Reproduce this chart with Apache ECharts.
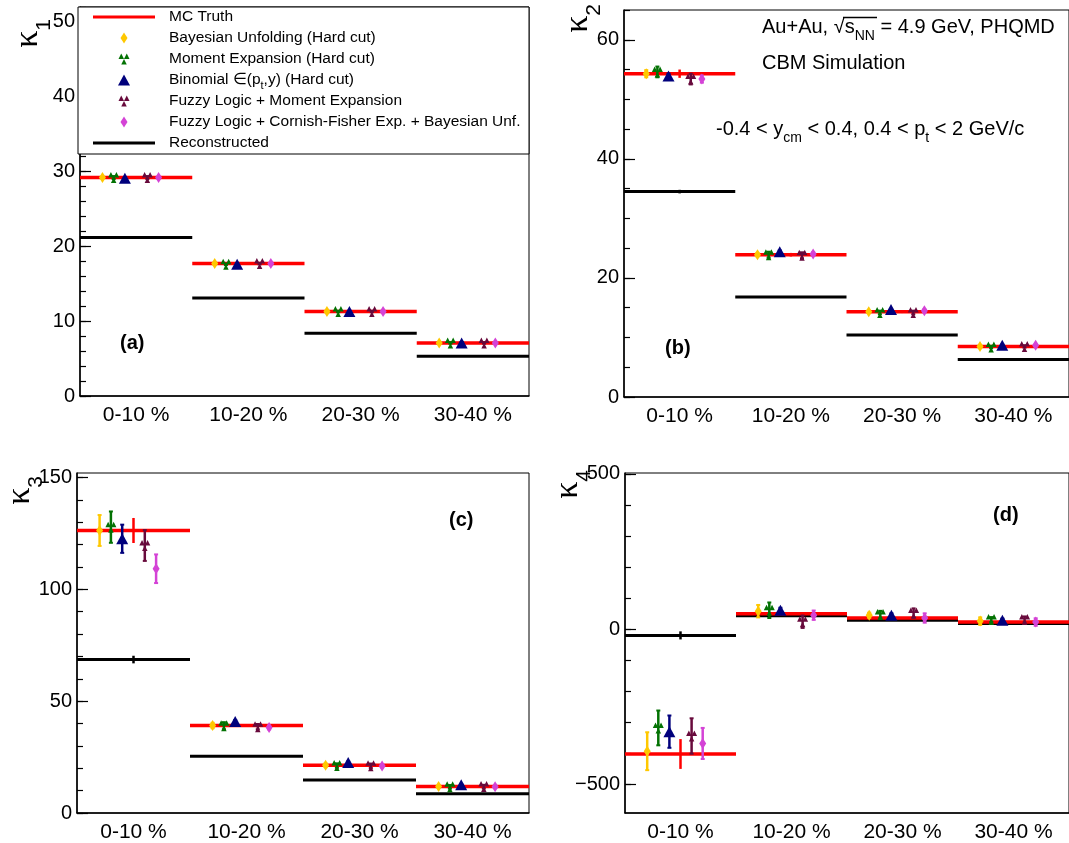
<!DOCTYPE html>
<html>
<head>
<meta charset="utf-8">
<script src="https://cdn.jsdelivr.net/npm/echarts@6/dist/echarts.min.js"></script>
<style>
html, body { margin: 0; padding: 0; background: #fff; }
#chart { width: 1069px; height: 843px; }
</style>
</head>
<body>
<div id="chart"></div>
<script>
// Centrality classes
const categories = ['0-10 %', '10-20 %', '20-30 %', '30-40 %'];

// Cumulant values per centrality class, with their statistical errors
// kappa_1
const k1Truth = [29.2, 17.7, 11.3, 7.1];
const k1TruthErr = [0.05, 0.05, 0.05, 0.05];
const k1Reco = [21.2, 13.1, 8.4, 5.3];
const k1RecoErr = [0.05, 0.05, 0.05, 0.05];
const k1Bayes = [29.2, 17.7, 11.3, 7.1];
const k1BayesErr = [0.1, 0.1, 0.1, 0.1];
const k1Moment = [29.2, 17.6, 11.3, 7.1];
const k1MomentErr = [0.2, 0.1, 0.1, 0.1];
const k1Binom = [29.1, 17.6, 11.3, 7.1];
const k1BinomErr = [0.1, 0.1, 0.1, 0.1];
const k1FuzzyME = [29.2, 17.7, 11.3, 7.1];
const k1FuzzyMEErr = [0.2, 0.1, 0.1, 0.1];
const k1FuzzyCF = [29.2, 17.7, 11.3, 7.1];
const k1FuzzyCFErr = [0.1, 0.1, 0.1, 0.1];

// kappa_2
const k2Truth = [54.3, 23.9, 14.3, 8.5];
const k2TruthErr = [0.7, 0.3, 0.2, 0.1];
const k2Reco = [34.5, 16.8, 10.4, 6.3];
const k2RecoErr = [0.3, 0.1, 0.1, 0.05];
const k2Bayes = [54.3, 23.9, 14.3, 8.5];
const k2BayesErr = [0.6, 0.3, 0.2, 0.1];
const k2Moment = [54.6, 23.9, 14.2, 8.4];
const k2MomentErr = [0.9, 0.5, 0.3, 0.2];
const k2Binom = [53.9, 24.4, 14.7, 8.7];
const k2BinomErr = [0.4, 0.2, 0.1, 0.1];
const k2FuzzyME = [53.4, 23.8, 14.2, 8.5];
const k2FuzzyMEErr = [0.9, 0.5, 0.3, 0.2];
const k2FuzzyCF = [53.4, 24.0, 14.5, 8.7];
const k2FuzzyCFErr = [0.6, 0.3, 0.2, 0.1];

// kappa_3
const k3Truth = [126.3, 39.1, 21.3, 11.8];
const k3TruthErr = [5.6, 0.3, 0.2, 0.1];
const k3Reco = [68.6, 25.4, 14.7, 8.6];
const k3RecoErr = [1.7, 0.2, 0.1, 0.1];
const k3Bayes = [126.3, 39.1, 21.3, 11.8];
const k3BayesErr = [6.9, 1.2, 0.8, 0.5];
const k3Moment = [127.8, 39.0, 21.2, 11.7];
const k3MomentErr = [7.0, 1.6, 1.0, 0.8];
const k3Binom = [122.6, 40.9, 22.6, 12.6];
const k3BinomErr = [6.3, 0.6, 0.4, 0.2];
const k3FuzzyME = [119.6, 38.6, 21.1, 11.8];
const k3FuzzyMEErr = [6.9, 1.2, 1.0, 0.8];
const k3FuzzyCF = [109.2, 38.2, 21.0, 11.7];
const k3FuzzyCFErr = [6.4, 0.8, 0.6, 0.4];

// kappa_4
const k4Truth = [-402, 50, 36, 23];
const k4TruthErr = [48, 4, 3, 2];
const k4Reco = [-20, 43, 29, 18];
const k4RecoErr = [13, 2, 1, 1];
const k4Bayes = [-393, 58, 45, 26];
const k4BayesErr = [61, 20, 8, 12];
const k4Moment = [-318, 61, 47, 31];
const k4MomentErr = [56, 25, 12, 8];
const k4Binom = [-330, 61, 45, 29];
const k4BinomErr = [52, 8, 6, 5];
const k4FuzzyME = [-344, 24, 52, 31];
const k4FuzzyMEErr = [57, 20, 15, 10];
const k4FuzzyCF = [-368, 45, 36, 23];
const k4FuzzyCFErr = [50, 15, 15, 12];

// Axis ticks
const k1Major = [0, 10, 20, 30, 40, 50];
const k2Major = [0, 20, 40, 60];
const k3Major = [0, 50, 100, 150];
const k4Major = [-500, 0, 500];

// ---------------------------------------------------------------
const FONT = '"Liberation Sans", Arial, Helvetica, sans-serif';
const TRI = 'path://M0,6L3,0L6,6ZM6,6L9,0L12,6ZM3,12L6,6L9,12Z';

const methods = [
  { name: 'Bayesian Unfolding (Hard cut)', color: '#ffc800', symbol: 'diamond', size: [7, 11], dx: 0.2 },
  { name: 'Moment Expansion (Hard cut)', color: '#037203', symbol: TRI, size: [11, 11], dx: 0.3 },
  { name: 'Binomial \u2208(pt,y) (Hard cut)', color: '#00007c', symbol: 'triangle', size: [12, 11], dx: 0.4 },
  { name: 'Fuzzy Logic + Moment Expansion', color: '#680a3c', symbol: TRI, size: [11, 11], dx: 0.6 },
  { name: 'Fuzzy Logic + Cornish-Fisher Exp. + Bayesian Unf.', color: '#d443d6', symbol: 'diamond', size: [7, 11], dx: 0.7 }
];

function range(from, to, step) {
  const out = [];
  for (let v = from; v <= to + 1e-9; v += step) out.push(v);
  return out;
}

const panels = [
  { grid: { left: 80, top: 7, width: 449, height: 389 }, min: 0, max: 52, major: k1Major, minor: range(0, 52, 2),
    truth: [k1Truth, k1TruthErr], reco: [k1Reco, k1RecoErr],
    sets: [[k1Bayes, k1BayesErr], [k1Moment, k1MomentErr], [k1Binom, k1BinomErr], [k1FuzzyME, k1FuzzyMEErr], [k1FuzzyCF, k1FuzzyCFErr]] },
  { grid: { left: 624, top: 10, width: 447, height: 387 }, min: 0, max: 65, major: k2Major, minor: range(0, 65, 5),
    truth: [k2Truth, k2TruthErr], reco: [k2Reco, k2RecoErr],
    sets: [[k2Bayes, k2BayesErr], [k2Moment, k2MomentErr], [k2Binom, k2BinomErr], [k2FuzzyME, k2FuzzyMEErr], [k2FuzzyCF, k2FuzzyCFErr]] },
  { grid: { left: 77, top: 473, width: 452, height: 340 }, min: 0, max: 152, major: k3Major, minor: range(0, 150, 10),
    truth: [k3Truth, k3TruthErr], reco: [k3Reco, k3RecoErr],
    sets: [[k3Bayes, k3BayesErr], [k3Moment, k3MomentErr], [k3Binom, k3BinomErr], [k3FuzzyME, k3FuzzyMEErr], [k3FuzzyCF, k3FuzzyCFErr]] },
  { grid: { left: 625, top: 473, width: 446, height: 344 }, min: -592, max: 503, major: k4Major, minor: range(-500, 500, 100),
    truth: [k4Truth, k4TruthErr], reco: [k4Reco, k4RecoErr],
    sets: [[k4Bayes, k4BayesErr], [k4Moment, k4MomentErr], [k4Binom, k4BinomErr], [k4FuzzyME, k4FuzzyMEErr], [k4FuzzyCF, k4FuzzyCFErr]] }
];

const grids = [], xAxes = [], yAxes = [], series = [];

function fmt(v) { return v < 0 ? '\u2212' + Math.abs(v) : String(v); }

// horizontal bin-wide segment with an error bar at the bin centre
function stepSeries(xi, yi, name, vals, errs, color, width, z) {
  return {
    type: 'custom', name, xAxisIndex: xi, yAxisIndex: yi, z, silent: true,
    data: vals.map((v, i) => [i, v, errs[i]]),
    encode: { x: 0, y: 1 },
    renderItem(params, api) {
      const i = api.value(0), v = api.value(1), e = api.value(2);
      const a = api.coord([i, v]), b = api.coord([i + 1, v]);
      const hi = api.coord([i + 0.5, v + e]), lo = api.coord([i + 0.5, v - e]);
      return {
        type: 'group', children: [
          { type: 'line', shape: { x1: a[0], y1: a[1], x2: b[0], y2: b[1] }, style: { stroke: color, lineWidth: width } },
          { type: 'line', shape: { x1: hi[0], y1: hi[1], x2: lo[0], y2: lo[1] }, style: { stroke: color, lineWidth: 2.5 } }
        ]
      };
    }
  };
}

// vertical error bars for a method's points
function errSeries(xi, yi, name, vals, errs, dx, color, z) {
  return {
    type: 'custom', name, xAxisIndex: xi, yAxisIndex: yi, z, silent: true,
    data: vals.map((v, i) => [i + dx, v, errs[i]]),
    encode: { x: 0, y: 1 },
    renderItem(params, api) {
      const x = api.value(0), v = api.value(1), e = api.value(2);
      const hi = api.coord([x, v + e]), lo = api.coord([x, v - e]);
      return {
        type: 'group', children: [
          { type: 'line', shape: { x1: hi[0], y1: hi[1], x2: lo[0], y2: lo[1] }, style: { stroke: color, lineWidth: 2.5 } },
          { type: 'line', shape: { x1: hi[0] - 2, y1: hi[1], x2: hi[0] + 2, y2: hi[1] }, style: { stroke: color, lineWidth: 2 } },
          { type: 'line', shape: { x1: lo[0] - 2, y1: lo[1], x2: lo[0] + 2, y2: lo[1] }, style: { stroke: color, lineWidth: 2 } }
        ]
      };
    }
  };
}

panels.forEach((p, gi) => {
  grids.push(Object.assign({ show: true, borderColor: '#000', borderWidth: 1, containLabel: false }, p.grid));
  xAxes.push({
    type: 'category', gridIndex: gi, data: categories, boundaryGap: true, position: 'bottom',
    axisLine: { onZero: false, lineStyle: { color: '#000', width: 1.5 } },
    axisTick: { inside: true, length: 10, interval: 0, lineStyle: { color: '#000', width: 1.2 } },
    axisLabel: { color: '#000', fontSize: 21, fontFamily: FONT, margin: 9, interval: 0 },
    splitLine: { show: false }
  });
  xAxes.push({ type: 'value', gridIndex: gi, min: 0, max: 4, show: false });
  yAxes.push({
    type: 'value', gridIndex: gi, min: p.min, max: p.max, position: 'left',
    axisLine: { show: true, onZero: false, lineStyle: { color: '#000', width: 1.5 } },
    axisTick: { inside: true, length: 11, customValues: p.major, lineStyle: { color: '#000', width: 1.2 } },
    axisLabel: { customValues: p.major, color: '#000', fontSize: 20, fontFamily: FONT, margin: 5, formatter: fmt },
    splitLine: { show: false }
  });
  yAxes.push({
    type: 'value', gridIndex: gi, min: p.min, max: p.max, position: 'left',
    axisLine: { show: false, onZero: false },
    axisTick: { inside: true, length: 6, customValues: p.minor, lineStyle: { color: '#000', width: 1.2 } },
    axisLabel: { show: false },
    splitLine: { show: false }
  });
  const xi = gi * 2 + 1, yi = gi * 2;
  series.push(stepSeries(xi, yi, 'Reconstructed', p.reco[0], p.reco[1], '#000', 3, 2));
  series.push(stepSeries(xi, yi, 'MC Truth', p.truth[0], p.truth[1], '#ff0000', 3.5, 3));
  methods.forEach((m, k) => {
    const [vals, errs] = p.sets[k];
    series.push(errSeries(xi, yi, m.name, vals, errs, m.dx, m.color, 4));
    series.push({
      type: 'scatter', name: m.name, xAxisIndex: xi, yAxisIndex: yi, z: 5, silent: true,
      data: vals.map((v, i) => [i + m.dx, v]),
      symbol: m.symbol, symbolSize: m.size,
      itemStyle: { color: m.color, opacity: 1 }
    });
  });
});

// ---- text and legend drawn as graphic elements ----
const graphics = [];

function richSub(fs, subFs, drop, color) {
  return {
    n: { fontSize: fs, lineHeight: fs + 2, verticalAlign: 'top', fontFamily: FONT, fill: color },
    s: { fontSize: subFs, lineHeight: subFs + 2, padding: [drop, 0, 0, 0], verticalAlign: 'top', fontFamily: FONT, fill: color }
  };
}

// axis titles kappa_n (rotated, reading upwards)
const titleRich = {
  k: { fontSize: 34, lineHeight: 34, verticalAlign: 'top', fontFamily: '"Liberation Serif", "DejaVu Serif", serif', fill: '#000' },
  s: { fontSize: 21, lineHeight: 21, padding: [23, 0, 0, 0], verticalAlign: 'top', fontFamily: FONT, fill: '#000' }
};
[[11, 19, '1'], [561, 4, '2'], [3, 476, '3'], [551, 470, '4']].forEach(([x, y, n]) => {
  graphics.push({
    type: 'text', x, y, rotation: Math.PI / 2, z: 100,
    style: { text: '{k|\u03ba}{s|' + n + '}', rich: titleRich, align: 'right', verticalAlign: 'top' }
  });
});

// panel tags
[['(a)', 120, 343], ['(b)', 665, 348], ['(c)', 449, 520], ['(d)', 993, 515]].forEach(([t, x, y]) => {
  graphics.push({ type: 'text', x, y, z: 100, style: { text: t, font: 'bold 20px ' + FONT, fill: '#000', align: 'left', verticalAlign: 'middle' } });
});

// collision system and acceptance
graphics.push({
  type: 'text', x: 762, y: 17, z: 100,
  style: { text: '{n|Au+Au, \u221a}{n|s}{s|NN}{n| = 4.9 GeV, PHQMD}', rich: richSub(20, 14, 12, '#000'), align: 'left', verticalAlign: 'top' }
});
graphics.push({ type: 'line', z: 100, shape: { x1: 843, y1: 17.5, x2: 877, y2: 17.5 }, style: { stroke: '#000', lineWidth: 1.3 } });
graphics.push({ type: 'text', x: 762, y: 63, z: 100, style: { text: 'CBM Simulation', font: '20px ' + FONT, fill: '#000', align: 'left', verticalAlign: 'middle' } });
graphics.push({
  type: 'text', x: 716, y: 119, z: 100,
  style: { text: '{n|-0.4 < y}{s|cm}{n| < 0.4, 0.4 < p}{s|t}{n| < 2 GeV/c}', rich: richSub(20, 14, 12, '#000'), align: 'left', verticalAlign: 'top' }
});

// legend box
const legX = 78, legY = 7, legW = 451, legH = 147;
graphics.push({ type: 'rect', z: 90, shape: { x: legX, y: legY, width: legW, height: legH }, style: { fill: '#fff', stroke: '#000', lineWidth: 1 } });
const rowY = [17, 38, 59, 80, 101, 122, 143];
const symX = 124, txtX = 169;
function legendMarker(m, cy) {
  const c = m.color;
  if (m.symbol === 'diamond') {
    return { type: 'polygon', z: 95, shape: { points: [[symX, cy - 5.5], [symX + 3.5, cy], [symX, cy + 5.5], [symX - 3.5, cy]] }, style: { fill: c } };
  }
  if (m.symbol === 'triangle') {
    return { type: 'polygon', z: 95, shape: { points: [[symX, cy - 5.5], [symX + 6, cy + 5.5], [symX - 6, cy + 5.5]] }, style: { fill: c } };
  }
  const s = 11 / 12, ox = symX - 5.5, oy = cy - 5.5;
  const tri = (pts) => ({ type: 'polygon', z: 95, shape: { points: pts.map(([a, b]) => [ox + a * s, oy + b * s]) }, style: { fill: c } });
  return { type: 'group', children: [tri([[0, 6], [3, 0], [6, 6]]), tri([[6, 6], [9, 0], [12, 6]]), tri([[3, 12], [6, 6], [9, 12]])] };
}
const legRich = richSub(15.5, 11, 9, '#000');
function legendText(text, cy) {
  return { type: 'text', x: txtX, y: cy - 8.75, z: 95, style: { text, rich: legRich, align: 'left', verticalAlign: 'top' } };
}
graphics.push({ type: 'line', z: 95, shape: { x1: 93, y1: rowY[0], x2: 155, y2: rowY[0] }, style: { stroke: '#ff0000', lineWidth: 3 } });
graphics.push(legendText('{n|MC Truth}', rowY[0]));
methods.forEach((m, k) => {
  graphics.push(legendMarker(m, rowY[k + 1]));
});
graphics.push(legendText('{n|Bayesian Unfolding (Hard cut)}', rowY[1]));
graphics.push(legendText('{n|Moment Expansion (Hard cut)}', rowY[2]));
graphics.push(legendText('{n|Binomial \u2208(p}{s|t}{n|,y) (Hard cut)}', rowY[3]));
graphics.push(legendText('{n|Fuzzy Logic + Moment Expansion}', rowY[4]));
graphics.push(legendText('{n|Fuzzy Logic + Cornish-Fisher Exp. + Bayesian Unf.}', rowY[5]));
graphics.push({ type: 'line', z: 95, shape: { x1: 93, y1: rowY[6], x2: 155, y2: rowY[6] }, style: { stroke: '#000', lineWidth: 3 } });
graphics.push(legendText('{n|Reconstructed}', rowY[6]));

const chart = echarts.init(document.getElementById('chart'), null, { renderer: 'canvas' });
chart.setOption({
  animation: false,
  backgroundColor: '#fff',
  grid: grids,
  xAxis: xAxes,
  yAxis: yAxes,
  series,
  graphic: { elements: graphics }
});
</script>
</body>
</html>
